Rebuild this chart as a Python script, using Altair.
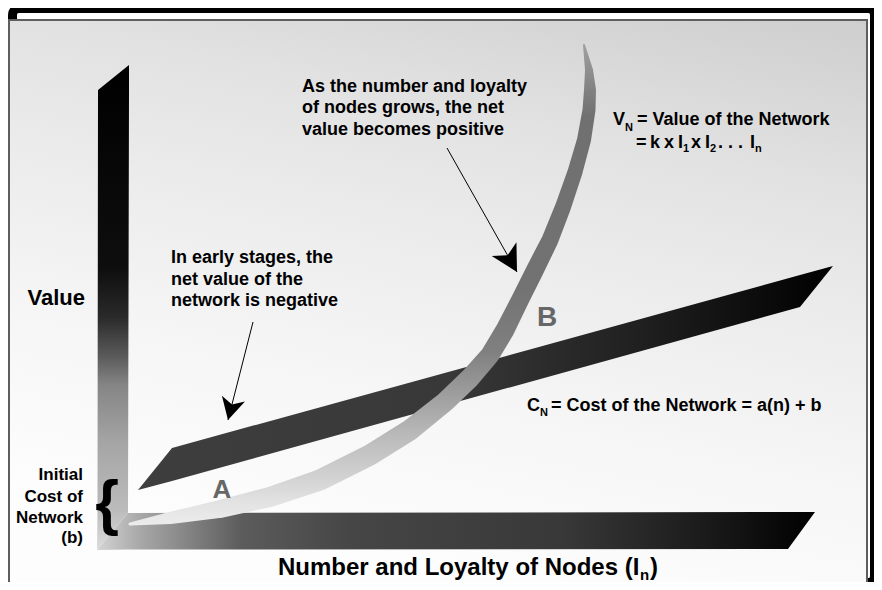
import math
import altair as alt
import pandas as pd

# ------------------------------------------------------------------
# Data (diagram units: x = number/loyalty of nodes, y = value;
# origin at the outer corner of the two axis ribbons)
# ------------------------------------------------------------------
# Value of the network V_N : centre line of the curved ribbon
value_nodes = [33, 73, 123, 173, 223, 273, 313, 348, 373, 393, 408, 423, 438, 453, 466, 478, 487, 492, 493, 492, 487]
value_level = [26, 32, 41, 53, 70, 95, 120, 148, 172, 195, 220, 250, 280, 310, 343, 378, 410, 440, 460, 480, 505]

# Cost of the network C_N = a(n) + b : straight ribbon (edges)
cost_nodes = [41, 75, 703, 736]
cost_upper = [60, 102, 275, 284]
cost_lower = [60, 69, 243, 284]

# Axis ribbons
yaxis_value = [0, 37, 460, 485]
yaxis_left = [0, 0.5, 1, 32]
yaxis_right = [0, 31, 32, 32]
xaxis_nodes = [0, 31, 691, 718]
xaxis_upper = [0, 37, 38, 38]
xaxis_lower = [0, 0.5, 1, 38]

# Annotation arrows (start of the line, tip of the head)
arrow_start_nodes = [156, 350]
arrow_start_value = [228, 402]
arrow_tip_nodes = [131, 420]
arrow_tip_value = [130, 278]

# Texts
value_title = "Value"
nodes_title = ["Number and Loyalty of Nodes (I", "n", ")"]
initial_cost_lines = ["Initial", "Cost of", "Network", "(b)"]
growth_note_lines = ["As the number and loyalty", "of nodes grows, the net", "value becomes positive"]
early_note_lines = ["In early stages, the", "net value of the", "network is negative"]
region_labels = ["A", "B"]
vn_line1 = ["V", "N", "= Value of the Network"]
vn_line2 = ["=", "k", "x", "I", "1", "x", "I", "2", ". . .", "I", "n"]
cn_line = ["C", "N", "= Cost of the Network = a(n) + b"]

# ------------------------------------------------------------------
# Layout / styles
# ------------------------------------------------------------------
W, H = 866, 574
xs = alt.Scale(domain=[-89, 777], nice=False, zero=False)
ys = alt.Scale(domain=[-32, 542], nice=False, zero=False)
FONT = "Liberation Sans"


def X(f):
    return alt.X(f, type="quantitative", scale=xs, axis=None)


def Y(f):
    return alt.Y(f, type="quantitative", scale=ys, axis=None)


def grad(stops, x1=0, y1=0, x2=0, y2=1):
    return alt.Gradient(
        gradient="linear",
        stops=[alt.GradientStop(offset=o, color=c) for o, c in stops],
        x1=x1, y1=y1, x2=x2, y2=y2,
    )


# outer black frame and grey panel
frame = alt.Chart(pd.DataFrame({"a": [-84.5], "b": [777.5], "c": [541.5], "d": [-32.5]})).mark_rect(
    fill="white", stroke="black", strokeWidth=9, cornerRadius=6
).encode(x=X("a"), x2=alt.X2("b"), y=Y("c"), y2=alt.Y2("d"))

panel = alt.Chart(pd.DataFrame({"a": [-88], "b": [770], "c": [530], "d": [-60]})).mark_rect(
    color=grad([(0, "#cecece"), (0.275, "#e2e2e2"), (0.46, "#ebebeb"), (0.73, "#f6f6f6"), (1, "#fdfdfd")],
               x1=1, y1=0, x2=0.7, y2=1),
    stroke="#5e5e5e", strokeWidth=2,
).encode(x=X("a"), x2=alt.X2("b"), y=Y("c"), y2=alt.Y2("d"))

# axis ribbons
yaxis_df = pd.DataFrame({"v": yaxis_value, "l": yaxis_left, "r": yaxis_right})
yaxis = alt.Chart(yaxis_df).mark_area(
    orient="horizontal",
    color=grad([(0, "#000000"), (0.42, "#0e0e0e"), (0.52, "#2a2a2a"), (0.6, "#5a5a5a"),
                (0.66, "#858585"), (0.78, "#a5a5a5"), (0.92, "#bcbcbc"), (1, "#dcdcdc")]),
).encode(y=Y("v"), x=X("l"), x2=alt.X2("r"))

xaxis_df = pd.DataFrame({"n": xaxis_nodes, "t": xaxis_upper, "b": xaxis_lower})
xaxis = alt.Chart(xaxis_df).mark_area(
    color=grad([(0, "#d4d4d4"), (0.06, "#a8a8a8"), (0.2, "#5c5c5c"), (0.35, "#464646"),
                (0.65, "#383838"), (0.85, "#1a1a1a"), (1, "#000000")], x1=0, y1=0, x2=1, y2=0),
).encode(x=X("n"), y=Y("t"), y2=alt.Y2("b"))

# cost ribbon
cost_df = pd.DataFrame({"n": cost_nodes, "t": cost_upper, "b": cost_lower})
cost = alt.Chart(cost_df).mark_area(
    color=grad([(0, "#3e3e3e"), (0.45, "#383838"), (0.72, "#202020"), (1, "#000000")], x1=0, y1=0, x2=1, y2=0),
).encode(x=X("n"), y=Y("t"), y2=alt.Y2("b"))

# value ribbon
value_width = [3, 12, 18, 20, 21, 21, 21, 20, 20, 19, 19, 18, 18, 17, 16, 15, 14, 13, 12, 8, 2]
value_df = pd.DataFrame({"n": value_nodes, "v": value_level, "w": value_width,
                         "i": list(range(len(value_nodes)))})
value = alt.Chart(value_df).mark_trail(
    color=grad([(0, "#ececec"), (0.05, "#e2e2e2"), (0.1, "#d2d2d2"), (0.18, "#bcbcbc"),
                (0.26, "#a2a2a2"), (0.36, "#808080"), (0.5, "#727272"), (0.85, "#707070"),
                (1, "#a0a0a0")], x1=0, y1=1, x2=0, y2=0),
).encode(x=X("n"), y=Y("v"), size=alt.Size("w:Q", scale=None), order=alt.Order("i:Q"))

# arrows
head_sizes = [566, 807]
rows_line, rows_head = [], []
for sx, sv, tx, tv, s in zip(arrow_start_nodes, arrow_start_value, arrow_tip_nodes, arrow_tip_value, head_sizes):
    dx, dv = tx - sx, tv - sv
    L = math.hypot(dx, dv)
    r = math.sqrt(s) / 2
    rows_line.append({"x0": sx, "y0": sv, "x1": tx, "y1": tv})
    rows_head.append({"x": tx - dx / L * r, "y": tv - dv / L * r, "s": s,
                      "a": math.degrees(math.atan2(dx, dv)) % 360})

arrow_lines = alt.Chart(pd.DataFrame(rows_line)).mark_rule(color="black", strokeWidth=1).encode(
    x=X("x0"), y=Y("y0"), x2=alt.X2("x1"), y2=alt.Y2("y1"))
DART = "M0,-1 L1,0.85 L0,0.35 L-1,0.85 Z"
arrow_heads = alt.Chart(pd.DataFrame(rows_head)).mark_point(
    shape=DART, filled=True, color="black", opacity=1, strokeWidth=0
).encode(x=X("x"), y=Y("y"), size=alt.Size("s:Q", scale=None), angle=alt.Angle("a:Q", scale=None))

# texts
left_rows = []
for t, v in zip(growth_note_lines, [463, 442, 420]):
    left_rows.append((t, 205, v, 18, "black"))
for t, v in zip(early_note_lines, [292, 270, 249]):
    left_rows.append((t, 74, v, 18, "black"))
for t, x, v, s in zip(vn_line1, [516, 528, 540], [430, 422, 430], [18, 11, 18]):
    left_rows.append((t, x, v, s, "black"))
for t, x, v, s in zip(vn_line2,
                      [539, 553, 567, 581, 586, 594, 608, 613, 621, 653, 658],
                      [407, 407, 407, 407, 401, 407, 407, 401, 407, 407, 401],
                      [18, 18, 18, 18, 11, 18, 18, 11, 18, 18, 11]):
    left_rows.append((t, x, v, s, "black"))
for t, x, v, s in zip(cn_line, [430, 443, 454], [144, 137, 144], [18, 11, 18]):
    left_rows.append((t, x, v, s, "black"))
for t, x, v, s in zip(nodes_title, [181, 543, 553], [-18, -25, -18], [24, 15, 24]):
    left_rows.append((t, x, v, s, "black"))

right_rows = [(value_title, -12, 252, 22, "black")]
for t, v in zip(initial_cost_lines, [75, 53, 32, 12]):
    right_rows.append((t, -14, v, 17, "black"))

center_rows = [(region_labels[0], 125, 60, 26, "#676767"), (region_labels[1], 450, 232, 28, "#676767")]


def text_layer(rows, align, weight="bold", baseline="middle"):
    df = pd.DataFrame(rows, columns=["t", "x", "y", "s", "c"])
    return alt.Chart(df).mark_text(
        align=align, baseline=baseline, font=FONT, fontWeight=weight
    ).encode(x=X("x"), y=Y("y"), text="t:N",
             size=alt.Size("s:Q", scale=None), color=alt.Color("c:N", scale=None))


brace = text_layer([("{", 10, 27, 61, "black")], "center", weight="bold", baseline="alphabetic")

chart = alt.layer(
    frame, panel, yaxis, xaxis, cost, value, arrow_lines, arrow_heads,
    text_layer(left_rows, "left"), text_layer(right_rows, "right"),
    text_layer(center_rows, "center"), brace,
).properties(
    width=W, height=H, padding=0, background="white",
    autosize=alt.AutoSizeParams(type="none"),
).configure_view(stroke=None)

chart.save("out.html", embed_options={"renderer": "svg", "actions": False})
